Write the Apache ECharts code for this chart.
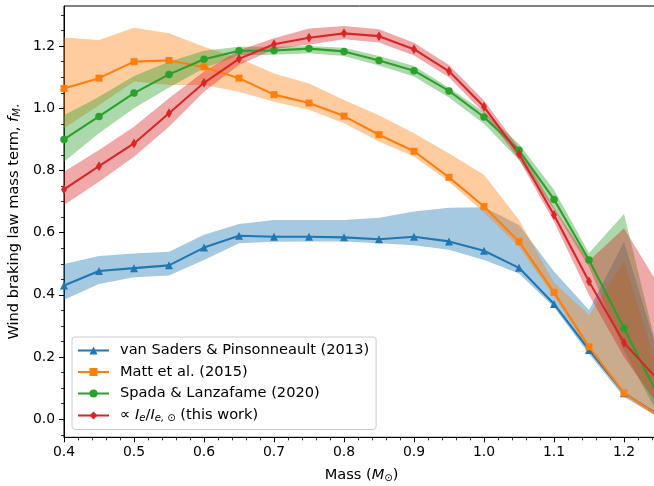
<!DOCTYPE html>
<html><head><meta charset="utf-8">
<script src="https://cdn.jsdelivr.net/npm/echarts@6/dist/echarts.min.js"></script>
<style>html,body{margin:0;padding:0;background:#fff}#c{width:654px;height:486px}</style>
</head><body><div id="c"></div>
<script>
// ---- data ----
const masses = [0.40,0.45,0.50,0.55,0.60,0.65,0.70,0.75,0.80,0.85,0.90,0.95,1.00,1.05,1.10,1.15,1.20,1.25];

const vsName = 'van Saders & Pinsonneault (2013)';
const vsMid = [0.430,0.477,0.486,0.495,0.552,0.590,0.587,0.587,0.585,0.579,0.587,0.572,0.542,0.487,0.371,0.223,0.084,0.012];
const vsLo  = [0.384,0.435,0.457,0.462,0.512,0.566,0.571,0.572,0.572,0.566,0.560,0.545,0.512,0.469,0.360,0.210,0.072,0.005];
const vsHi  = [0.499,0.525,0.533,0.539,0.593,0.628,0.641,0.641,0.641,0.648,0.668,0.680,0.682,0.625,0.475,0.351,0.571,0.200];

const mattName = 'Matt et al. (2015)';
const mattMid = [1.064,1.097,1.150,1.154,1.133,1.097,1.044,1.017,0.975,0.915,0.862,0.778,0.684,0.571,0.408,0.233,0.084,0.010];
const mattLo  = [0.936,1.010,1.086,1.075,1.075,1.053,1.021,0.995,0.952,0.893,0.844,0.764,0.665,0.555,0.395,0.222,0.078,0.004];
const mattHi  = [1.228,1.220,1.259,1.241,1.198,1.161,1.112,1.080,1.027,0.978,0.920,0.855,0.786,0.641,0.440,0.335,0.507,0.150];

const spadaName = 'Spada & Lanzafame (2020)';
const spadaMid = [0.900,0.974,1.049,1.109,1.158,1.185,1.186,1.192,1.183,1.154,1.121,1.056,0.972,0.865,0.707,0.512,0.293,0.070];
const spadaLo  = [0.828,0.920,1.000,1.067,1.129,1.171,1.172,1.177,1.168,1.138,1.102,1.035,0.950,0.834,0.675,0.490,0.220,0.010];
const spadaHi  = [0.978,1.037,1.104,1.150,1.185,1.198,1.198,1.200,1.195,1.168,1.136,1.066,0.988,0.885,0.738,0.535,0.660,0.200];

const thisName = 'this work';
const thisMid = [0.739,0.814,0.887,0.984,1.082,1.159,1.206,1.227,1.241,1.232,1.190,1.119,1.005,0.853,0.657,0.443,0.246,0.123];
const thisLo  = [0.689,0.764,0.844,0.941,1.053,1.139,1.190,1.205,1.222,1.212,1.170,1.100,0.985,0.835,0.635,0.400,0.200,0.040];
const thisHi  = [0.796,0.866,0.941,1.032,1.118,1.187,1.225,1.257,1.265,1.254,1.211,1.139,1.025,0.872,0.680,0.510,0.614,0.430];

const xTicks = [0.4,0.5,0.6,0.7,0.8,0.9,1.0,1.1,1.2];
const yTicks = [0.0,0.2,0.4,0.6,0.8,1.0,1.2];
const xMinor = []; for (let i = 20; i <= 62; i++) xMinor.push(+(i*0.02).toFixed(2));
const yMinor = []; for (let i = -1; i <= 26; i++) yMinor.push(+(i*0.05).toFixed(2));

// ---- chart ----
const FONT = 'DejaVu Sans';
const FS = 13.9;   // tick labels
const FL = 14.6;   // legend & axis titles
const colors = {vs:'#1f77b4', matt:'#ff7f0e', spada:'#2ca02c', th:'#d62728'};
const thinDiamond = 'path://M0,-10 L6,0 L0,10 L-6,0 Z';

function pairs(ys){ return masses.map((m,i)=>[m, ys[i]]); }

function band(key, lo, hi, color){
  const rows = masses.map((m,i)=>[m, lo[i], hi[i]]);
  return {
    type:'custom', name:key+'_band', data:rows, silent:true, z:1, clip:true,
    encode:{x:0, y:[1,2]},
    renderItem:function(params, api){
      if (params.dataIndex !== 0) return null;
      const pts = [];
      for (let i = 0; i < rows.length; i++) pts.push(api.coord([rows[i][0], rows[i][2]]));
      for (let i = rows.length-1; i >= 0; i--) pts.push(api.coord([rows[i][0], rows[i][1]]));
      return {type:'polygon', shape:{points:pts}, style:{fill:color, opacity:0.4}};
    }
  };
}
function line(name, ys, color, symbol, size){
  return {type:'line', name:name, data:pairs(ys), symbol:symbol, symbolSize:size, showSymbol:true,
    lineStyle:{color:color, width:2.1}, itemStyle:{color:color, borderWidth:0}, z:3, animation:false,
    emphasis:{disabled:true}};
}

const series = [
  band('vs', vsLo, vsHi, colors.vs),
  band('matt', mattLo, mattHi, colors.matt),
  band('spada', spadaLo, spadaHi, colors.spada),
  band('th', thisLo, thisHi, colors.th),
  line(vsName, vsMid, colors.vs, 'triangle', 8),
  line(mattName, mattMid, colors.matt, 'rect', 7),
  line(spadaName, spadaMid, colors.spada, 'circle', 7.5),
  line(thisName, thisMid, colors.th, thinDiamond, [6,10])
];

const chart = echarts.init(document.getElementById('c'), null, {renderer:'canvas'});
chart.setOption({
  animation:false,
  backgroundColor:'#fff',
  textStyle:{fontFamily:FONT},
  grid:{left:64, top:6, right:-5, bottom:48.7, show:true, borderColor:'#000', borderWidth:1,
        backgroundColor:'transparent', containLabel:false, outerBoundsMode:'none'},
  legend:{
    data:[vsName, mattName, spadaName, thisName],
    orient:'vertical', left:72, top:337,
    padding:[6,7,6,5], itemWidth:31, itemHeight:10, itemGap:6.5,
    backgroundColor:'rgba(255,255,255,0.8)', borderColor:'#cccccc', borderWidth:1, borderRadius:3,
    formatter: function(n){ return n === thisName ? '{t|∝ }{i|I}{s|e}{t|/}{i|I}{s|e, ⊙}{t| (this work)}' : '{t|'+n+'}'; },
    textStyle:{fontSize:FL, color:'#000', fontFamily:FONT, padding:[0,0,0,6],
      rich:{t:{fontSize:FL, fontFamily:FONT, color:'#000', lineHeight:15},
            i:{fontSize:FL, fontFamily:FONT, fontStyle:'italic', color:'#000', lineHeight:15},
            s:{fontSize:10, fontFamily:FONT, fontStyle:'italic', color:'#000', lineHeight:15, padding:[6,0,0,0]}}}
  },
  xAxis:[
    {type:'value', min:0.4, max:1.25, position:'bottom',
     axisLine:{show:true, onZero:false, lineStyle:{color:'#000', width:1}},
     axisTick:{show:true, customValues:xTicks, length:5, lineStyle:{color:'#000', width:1}},
     axisLabel:{show:true, customValues:xTicks, formatter:v=>v.toFixed(1), color:'#000', fontSize:FS, fontFamily:FONT, margin:8},
     splitLine:{show:false},
     name:'Mass ({i|M}{s|⊙})', nameLocation:'middle', nameGap:29,
     nameTextStyle:{fontSize:FL, color:'#000', fontFamily:FONT,
       rich:{i:{fontSize:FL, fontStyle:'italic', fontFamily:FONT, color:'#000'},
             s:{fontSize:10, fontFamily:FONT, color:'#000', padding:[7,0,0,0]}}}},
    {type:'value', min:0.4, max:1.25, position:'bottom',
     axisLine:{show:false, onZero:false},
     axisTick:{show:true, customValues:xMinor, length:3, lineStyle:{color:'#000', width:0.8}},
     axisLabel:{show:false}, splitLine:{show:false}}
  ],
  yAxis:[
    {type:'value', min:-0.058, max:1.329, position:'left',
     axisLine:{show:true, onZero:false, lineStyle:{color:'#000', width:1}},
     axisTick:{show:true, customValues:yTicks, length:5, lineStyle:{color:'#000', width:1}},
     axisLabel:{show:true, customValues:yTicks, formatter:v=>v.toFixed(1), color:'#000', fontSize:FS, fontFamily:FONT, margin:9},
     splitLine:{show:false},
     name:'Wind braking law mass term, {i|f}{s|M}{ss|⋆}', nameLocation:'middle', nameGap:41, nameRotate:90,
     nameTextStyle:{fontSize:FL, color:'#000', fontFamily:FONT,
       rich:{i:{fontSize:FL, fontStyle:'italic', fontFamily:FONT, color:'#000'},
             s:{fontSize:10, fontStyle:'italic', fontFamily:FONT, color:'#000', padding:[6,0,0,0]},
             ss:{fontSize:7, fontFamily:FONT, color:'#000', padding:[9,0,0,0]}}}},
    {type:'value', min:-0.058, max:1.329, position:'left',
     axisLine:{show:false, onZero:false},
     axisTick:{show:true, customValues:yMinor, length:3, lineStyle:{color:'#000', width:0.8}},
     axisLabel:{show:false}, splitLine:{show:false}}
  ],
  series: series
});
</script></body></html>
